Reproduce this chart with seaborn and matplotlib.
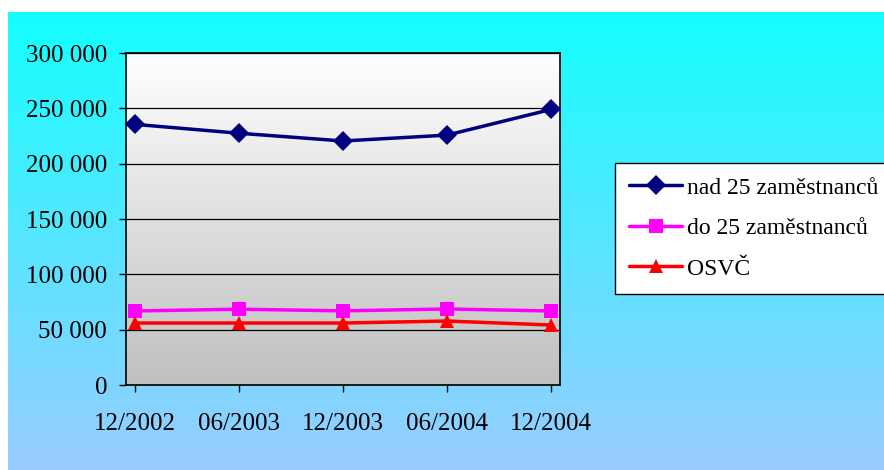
import numpy as np
import pandas as pd
import matplotlib
matplotlib.use("Agg")
import matplotlib.pyplot as plt
import seaborn as sns
from matplotlib.colors import LinearSegmentedColormap
from matplotlib.ticker import FuncFormatter

# data
periods = ["12/2002", "06/2003", "12/2003", "06/2004", "12/2004"]
nad_25 = [235500, 227500, 220500, 225800, 249000]
do_25 = [66900, 68500, 67000, 68700, 66900]
osvc = [56000, 56000, 56000, 57800, 54200]
series_names = ["nad 25 zaměstnanců", "do 25 zaměstnanců", "OSVČ"]

df = pd.DataFrame({
    "obdobi": list(range(len(periods))) * 3,
    "pocet": nad_25 + do_25 + osvc,
    "rada": [n for n in series_names for _ in periods],
})

sns.set_theme(style="white")
plt.rcParams["font.family"] = ["Liberation Serif", "DejaVu Serif"]
plt.rcParams["text.color"] = "black"

fig = plt.figure(figsize=(8.84, 4.70), dpi=100)
fig.patch.set_facecolor("white")

# figure background gradient (cyan -> light blue)
bg = fig.add_axes([8 / 884, 0, 876 / 884, 458 / 470], zorder=-10)
bg_cmap = LinearSegmentedColormap.from_list("bg", ["#14FFFF", "#99CCFF"])
bg.imshow(np.linspace(0, 1, 256).reshape(-1, 1), cmap=bg_cmap, aspect="auto",
          extent=[0, 1, 0, 1], origin="upper")
bg.set_axis_off()

ax = fig.add_axes([126 / 884, 1 - 385 / 470, 434 / 884, 332 / 470])
ax.set_facecolor("none")
pa_cmap = LinearSegmentedColormap.from_list("pa", ["#FFFFFF", "#C0C0C0"])
ax.imshow(np.linspace(0, 1, 256).reshape(-1, 1), cmap=pa_cmap, aspect="auto",
          extent=[0, 1, 0, 1], origin="upper", transform=ax.transAxes, zorder=0)

palette = {"nad 25 zaměstnanců": "#000080", "do 25 zaměstnanců": "#FF00FF", "OSVČ": "#FF0000"}
markers = {"nad 25 zaměstnanců": "D", "do 25 zaměstnanců": "s", "OSVČ": "^"}
sns.lineplot(data=df, x="obdobi", y="pocet", hue="rada", style="rada",
             palette=palette, markers=markers, dashes=False, linewidth=2.5,
             markersize=10, markeredgewidth=0, ax=ax, zorder=3)

ax.set_xlim(-0.087, 4.087)
ax.set_ylim(0, 300000)
ax.set_xticks(range(len(periods)))
ax.set_xticklabels(periods)
ax.set_yticks(np.arange(0, 300001, 50000))
ax.yaxis.set_major_formatter(FuncFormatter(lambda v, p: f"{int(v):,}".replace(",", " ")))
ax.grid(axis="y", color="black", linewidth=0.9, zorder=1)
ax.set_axisbelow(True)
ax.set_xlabel("")
ax.set_ylabel("")
for s in ax.spines.values():
    s.set_color("black")
    s.set_linewidth(1.2)
ax.tick_params(axis="both", which="major", direction="out", length=5, width=1,
               color="black", labelsize=18, labelcolor="black", bottom=True, left=True)
ax.tick_params(axis="y", pad=8.5)
ax.tick_params(axis="x", pad=15)

ax.legend_.remove()
handles, labels = ax.get_legend_handles_labels()
leg = fig.legend(handles, labels, loc="upper left", bbox_to_anchor=(615 / 884, 1 - 163 / 470),
                 frameon=True, fancybox=False, framealpha=1, edgecolor="black",
                 facecolor="white", fontsize=17, handlelength=2.25, handletextpad=0.2,
                 labelspacing=0.8, borderpad=0.6, borderaxespad=0, labelcolor="black")
leg.get_frame().set_linewidth(1.0)

fig.savefig("out.png", dpi=100)
plt.close(fig)
